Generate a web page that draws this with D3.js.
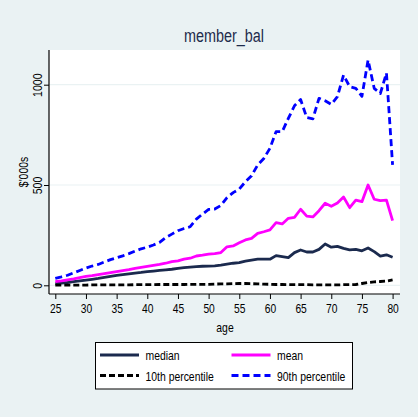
<!DOCTYPE html>
<html>
<head>
<meta charset="utf-8">
<script src="https://cdn.jsdelivr.net/npm/d3@7"></script>
<style>
  html, body { margin: 0; padding: 0; background: #eaf2f3; }
  svg { display: block; }
  text { font-family: "Liberation Sans", Arial, sans-serif; }
</style>
</head>
<body>
<svg id="chart" width="418" height="417"></svg>
<script>
// Member balances ($'000s) by age
const ages = [25,26,27,28,29,30,31,32,33,34,35,36,37,38,39,40,41,42,43,44,45,46,47,48,49,50,51,52,
              53,54,55,56,57,58,59,60,61,62,63,64,65,66,67,68,69,70,71,72,73,74,75,76,77,78,79,80];

const median = [8,11,14,18,22,26,30,34,39,44,49,53,57,61,64,68,71,74,77,80,84,88,91,93,95,96,97,101,
                106,110,113,121,126,130,130,130,148,143,138,163,176,166,166,179,206,190,194,184,177,179,172,186,168,146,152,140];

const mean = [18,22,27,32,38,44,48,53,58,63,68,73,78,84,89,94,99,104,110,118,122,130,135,146,150,155,158,163,
              192,196,212,226,234,259,267,276,312,306,334,339,379,345,341,372,409,394,410,440,387,425,417,500,429,422,425,322];

const p10 = [1,1,1,1,1,1,2,2,2,2,2,2,2,3,3,3,3,4,4,4,4,4,5,5,5,5,6,7,
             7,8,9,9,8,7,6,5,4,4,3,3,3,3,2,2,2,2,2,3,3,4,9,14,17,19,21,27];

const p90 = [35,42,50,62,74,86,96,104,116,128,137,147,158,170,182,190,201,214,238,255,272,283,292,330,355,378,380,398,
             437,462,480,516,546,600,632,683,766,766,832,895,926,836,830,932,920,902,940,1048,990,982,942,1123,982,956,1058,600];

const yTicks = [0, 500, 1000];
const xTicks = [25,30,35,40,45,50,55,60,65,70,75,80];

const series = [
  { name: "median",          values: median, color: "#1b2a4e", dash: null },
  { name: "mean",            values: mean,   color: "#ff00ff", dash: null },
  { name: "10th percentile", values: p10,    color: "#000000", dash: "6,3" },
  { name: "90th percentile", values: p90,    color: "#0000ff", dash: "7,4" }
];

const svg = d3.select("#chart");

// Squeeze text horizontally to a condensed look
function condense(sel, factor) {
  sel.each(function () {
    const w = this.getComputedTextLength();
    this.setAttribute("textLength", (w * factor).toFixed(2));
    this.setAttribute("lengthAdjust", "spacingAndGlyphs");
  });
}

// Scales
const x = d3.scaleLinear().domain([25, 80]).range([55.3, 392.6]);
const y = d3.scaleLinear().domain([0, 1000]).range([285.3, 84.7]);

const plot = { left: 49, top: 50, right: 400, bottom: 294 };

// Outer background
svg.append("rect").attr("x", 0).attr("y", 0).attr("width", 418).attr("height", 417).attr("fill", "#eaf2f3");

// Plot region
svg.append("rect")
  .attr("x", plot.left).attr("y", plot.top)
  .attr("width", plot.right - plot.left).attr("height", plot.bottom - plot.top)
  .attr("fill", "#ffffff");

// Gridlines
svg.append("g").selectAll("line").data(yTicks).join("line")
  .attr("x1", plot.left).attr("x2", plot.right)
  .attr("y1", d => y(d)).attr("y2", d => y(d))
  .attr("stroke", "#eaf2f3").attr("stroke-width", 1.2);

// Title
svg.append("text")
  .attr("x", 224).attr("y", 42)
  .attr("text-anchor", "middle")
  .attr("font-size", 18)
  .attr("fill", "#1e2c4c")
  .text("member_bal")
  .call(condense, 0.8);

// Y axis
const yAxis = svg.append("g")
  .attr("transform", `translate(${plot.left},0)`)
  .call(d3.axisLeft(y).tickValues(yTicks).tickSize(5).tickSizeOuter(0).tickFormat(d3.format("d")));
yAxis.select(".domain").remove();
yAxis.selectAll(".tick line").attr("stroke", "#000").attr("stroke-width", 1);
yAxis.selectAll(".tick text")
  .attr("x", null).attr("dy", null)
  .attr("transform", "translate(-7,0) rotate(-90)")
  .attr("text-anchor", "middle")
  .attr("font-size", 13.5)
  .attr("font-family", null)
  .attr("fill", "#000")
  .call(condense, 0.78);
svg.append("line")
  .attr("x1", plot.left).attr("x2", plot.left)
  .attr("y1", plot.top).attr("y2", plot.bottom)
  .attr("stroke", "#000").attr("stroke-width", 1.2);

// Y axis title
svg.append("text")
  .attr("transform", "translate(28,172) rotate(-90)")
  .attr("text-anchor", "middle")
  .attr("font-size", 13)
  .attr("fill", "#000")
  .text("$'000s")
  .call(condense, 0.8);

// X axis
const xAxis = svg.append("g")
  .attr("transform", `translate(0,${plot.bottom})`)
  .call(d3.axisBottom(x).tickValues(xTicks).tickSize(5).tickSizeOuter(0));
xAxis.select(".domain").remove();
xAxis.selectAll(".tick line").attr("stroke", "#000").attr("stroke-width", 1);
xAxis.selectAll(".tick text")
  .attr("y", 9).attr("dy", "0.71em")
  .attr("font-size", 13.5)
  .attr("font-family", null)
  .attr("fill", "#000")
  .call(condense, 0.76);
svg.append("line")
  .attr("x1", plot.left).attr("x2", plot.right)
  .attr("y1", plot.bottom).attr("y2", plot.bottom)
  .attr("stroke", "#000").attr("stroke-width", 1.2);

// X axis title
svg.append("text")
  .attr("x", 225).attr("y", 332)
  .attr("text-anchor", "middle")
  .attr("font-size", 13)
  .attr("fill", "#000")
  .text("age")
  .call(condense, 0.8);

// Series lines
const line = d3.line()
  .x((d, i) => x(ages[i]))
  .y(d => y(d));

svg.append("g").selectAll("path").data(series).join("path")
  .attr("d", s => line(s.values))
  .attr("fill", "none")
  .attr("stroke", s => s.color)
  .attr("stroke-width", 2.8)
  .attr("stroke-linejoin", "round")
  .attr("stroke-dasharray", s => s.dash);

// Legend
const legend = svg.append("g");
legend.append("rect")
  .attr("x", 95.5).attr("y", 342.5).attr("width", 257).attr("height", 46.5)
  .attr("fill", "#ffffff").attr("stroke", "#000").attr("stroke-width", 1);

const legendPos = [
  { x: 100, y: 355 }, { x: 231.5, y: 355 },
  { x: 100, y: 375.5 }, { x: 231.5, y: 375.5 }
];

const items = legend.selectAll("g.item").data(series).join("g")
  .attr("class", "item")
  .attr("transform", (d, i) => `translate(${legendPos[i].x},${legendPos[i].y})`);
items.append("line")
  .attr("x1", 0).attr("x2", 39).attr("y1", 0).attr("y2", 0)
  .attr("stroke", d => d.color).attr("stroke-width", 2.8)
  .attr("stroke-dasharray", d => d.dash);
items.append("text")
  .attr("x", 45.5).attr("y", 5)
  .attr("font-size", 13)
  .attr("fill", "#000")
  .text(d => d.name)
  .call(condense, 0.8);
</script>
</body>
</html>
